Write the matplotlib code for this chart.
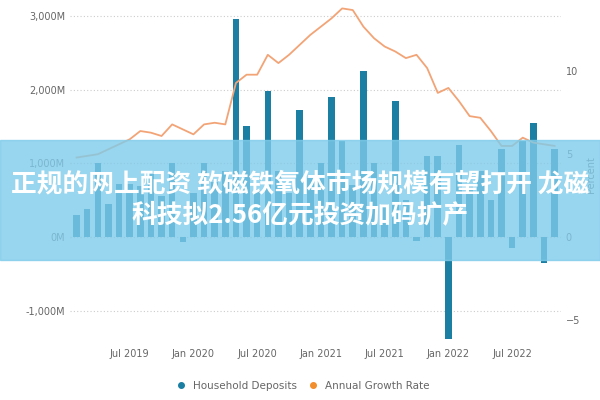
import matplotlib.pyplot as plt
import numpy as np
import pandas as pd
from matplotlib.lines import Line2D
from matplotlib import font_manager

# monthly data, Feb 2019 .. Nov 2022
months = pd.date_range("2019-02-01", periods=46, freq="MS")
deposits = [300, 380, 1000, 450, 720, 720, 690, 850, 560, 1000,
            -60, 600, 1000, 750, 900, 2960, 1500, 650, 1980, 900,
            600, 1730, 800, 1000, 1900, 1300, 700, 2250, 1000, 450,
            1850, 500, -50, 1100, 1100, -1380, 1250, 700, 900, 500,
            1200, -150, 1300, 1550, -350, 1200]
growth = [4.8, 4.9, 5.0, 5.3, 5.6, 5.9, 6.4, 6.3, 6.1, 6.8,
          6.5, 6.2, 6.8, 6.9, 6.8, 9.3, 9.8, 9.8, 11.0, 10.5,
          11.0, 11.6, 12.2, 12.7, 13.2, 13.8, 13.7, 12.7, 12.0, 11.5,
          11.2, 10.8, 11.0, 10.2, 8.7, 9.0, 8.2, 7.3, 7.2, 6.4,
          5.5, 5.5, 6.0, 5.7, 5.6, 5.5]
left_ticks = [-1000, 0, 1000, 2000, 3000]
left_labels = ["-1,000M", "0M", "1,000M", "2,000M", "3,000M"]
right_ticks = [-5, 0, 5, 10]
xtick_labels = ["Jul 2019", "Jan 2020", "Jul 2020", "Jan 2021", "Jul 2021", "Jan 2022", "Jul 2022"]
title_lines = ["正规的网上配资 软磁铁氧体市场规模有望打开 龙磁", "科技拟2.56亿元投资加码扩产"]

bar_color = "#1a7fa3"
line_color = "#f2a477"
grey = "#666666"

# find a CJK sans font file
cjk_files = [f for f in font_manager.findSystemFonts() if "CJK" in f and "Sans" in f]
bold = [f for f in cjk_files if "Bold" in f]
if bold:
    cjk = font_manager.FontProperties(fname=bold[0], size=18.5)
elif cjk_files:
    cjk = font_manager.FontProperties(fname=cjk_files[0], size=18.5, weight="bold")
else:
    cjk = font_manager.FontProperties(family="Noto Sans CJK SC", size=18.5, weight="bold")

fig = plt.figure(figsize=(6, 4), dpi=100)
ax = fig.add_axes([0.117, 0.14, 0.818, 0.848])
x = np.arange(len(months))
ax.bar(x, deposits, width=0.62, color=bar_color, zorder=2)
ax.set_ylim(-1450, 3150)
ax.set_xlim(-0.6, len(months) - 0.4)
ax.set_yticks(left_ticks)
ax.set_yticklabels(left_labels)
ax.grid(axis="y", linestyle=(0, (1, 2)), color="#cccccc", linewidth=0.8, zorder=0)

pos = [i for i, m in enumerate(months) if m.month in (1, 7)]
ax.set_xticks(pos)
ax.set_xticklabels(xtick_labels)

ax2 = ax.twinx()
ax2.plot(x, growth, color=line_color, linewidth=1.3, zorder=3)
ax2.set_ylim(-1450 * 0.00445, 3150 * 0.00445)
ax2.set_yticks(right_ticks)
ax2.set_ylabel("Percent", color=grey, fontsize=7)

for a in (ax, ax2):
    for s in a.spines.values():
        s.set_visible(False)
    a.tick_params(length=0, labelsize=7, colors=grey)

handles = [Line2D([], [], marker="o", linestyle="", color=bar_color, markersize=4),
           Line2D([], [], marker="o", linestyle="", color="#f28e2b", markersize=4)]
fig.legend(handles, ["Household Deposits", "Annual Growth Rate"], loc="lower center",
           bbox_to_anchor=(0.5, 0.0), ncol=2, frameon=False, fontsize=7.5,
           handletextpad=0.1, columnspacing=0.6, labelcolor=grey)

# overlay banner
fig.patches.append(plt.Rectangle((0, 0.35), 1, 0.3, transform=fig.transFigure,
                                 color="#7fcbea", alpha=0.8, zorder=5))
fig.text(0.5, 0.538, title_lines[0], ha="center", va="center", color="white",
         fontproperties=cjk, zorder=6)
fig.text(0.5, 0.462, title_lines[1], ha="center", va="center", color="white",
         fontproperties=cjk, zorder=6)

fig.savefig("out.png", dpi=100)
